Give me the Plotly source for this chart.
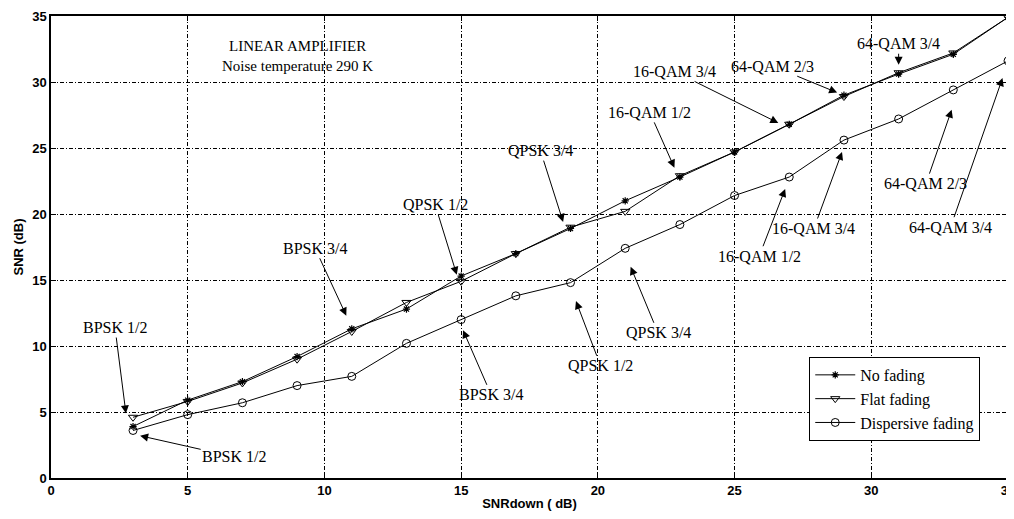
import plotly.graph_objects as go

snr_down = [3, 5, 7, 9, 11, 13, 15, 17, 19, 21, 23, 25, 27, 29, 31, 33, 35]
no_fading = [3.9, 5.9, 7.3, 9.2, 11.3, 12.8, 15.3, 17.0, 18.9, 21.0, 22.8, 24.7, 26.8, 29.0, 30.6, 32.1, 34.9]
flat_fading = [4.6, 5.8, 7.2, 9.0, 11.1, 13.3, 14.9, 17.0, 19.0, 20.2, 22.9, 24.7, 26.8, 28.9, 30.7, 32.2, 34.9]
dispersive_fading = [3.6, 4.8, 5.7, 7.0, 7.7, 10.2, 12.0, 13.8, 14.8, 17.4, 19.2, 21.4, 22.8, 25.6, 27.2, 29.4, 31.6]

# upper labels (no fading / flat fading): text, text position, arrow tip
upper_labels = ["BPSK 1/2", "BPSK 3/4", "QPSK 1/2", "QPSK 3/4", "16-QAM 1/2", "16-QAM 3/4", "64-QAM 2/3", "64-QAM 3/4"]
upper_text_x = [2.34, 9.66, 14.05, 17.9, 21.9, 22.8, 26.4, 31.0]
upper_text_y = [11.4, 17.4, 20.7, 24.8, 27.7, 30.8, 31.2, 32.9]
upper_tip_x = [2.74, 10.8, 14.84, 18.73, 22.8, 26.6, 28.75, 31.0]
upper_tip_y = [4.9, 12.3, 15.4, 19.4, 23.5, 26.9, 29.2, 31.3]

# lower labels (dispersive fading)
lower_labels = ["BPSK 1/2", "BPSK 3/4", "QPSK 1/2", "QPSK 3/4", "16-QAM 1/2", "16-QAM 3/4", "64-QAM 2/3", "64-QAM 3/4"]
lower_text_x = [6.7, 16.1, 20.1, 22.2, 25.9, 27.9, 32.0, 32.9]
lower_text_y = [1.6, 6.3, 8.5, 11.0, 16.8, 18.9, 22.3, 19.0]
lower_tip_x = [3.26, 15.07, 19.2, 21.2, 26.85, 28.93, 32.94, 34.8]
lower_tip_y = [3.2, 11.2, 13.4, 16.0, 21.9, 24.7, 27.9, 30.3]

serif = "Liberation Serif, Times New Roman, serif"
sans = "Liberation Sans, Arial, sans-serif"

fig = go.Figure()
fig.add_trace(go.Scatter(x=snr_down, y=no_fading, mode="lines+markers", name="No fading",
                         line=dict(color="black", width=1),
                         marker=dict(symbol="asterisk-open", size=6, color="black", line=dict(width=1.2, color="black"))))
fig.add_trace(go.Scatter(x=snr_down, y=flat_fading, mode="lines+markers", name="Flat fading",
                         line=dict(color="black", width=1),
                         marker=dict(symbol="triangle-down-open", size=8, color="black", line=dict(width=1, color="black"))))
fig.add_trace(go.Scatter(x=snr_down, y=dispersive_fading, mode="lines+markers", name="Dispersive fading",
                         line=dict(color="black", width=1),
                         marker=dict(symbol="circle-open", size=8, color="black", line=dict(width=1, color="black"))))

annotations = []
for labels, tx, ty, px, py in [(upper_labels, upper_text_x, upper_text_y, upper_tip_x, upper_tip_y),
                               (lower_labels, lower_text_x, lower_text_y, lower_tip_x, lower_tip_y)]:
    for lab, a, b, c, d in zip(labels, tx, ty, px, py):
        annotations.append(dict(x=c, y=d, ax=a, ay=b, xref="x", yref="y", axref="x", ayref="y",
                                text=lab, showarrow=True, arrowhead=2, arrowsize=1.6, arrowwidth=1,
                                arrowcolor="black", font=dict(family=serif, size=16, color="black")))

annotations.append(dict(x=9.0, y=32.0, xref="x", yref="y", showarrow=False,
                        text="LINEAR AMPLIFIER<br>Noise temperature 290 K",
                        font=dict(family=serif, size=15, color="black")))

fig.update_layout(
    width=1006, height=511,
    margin=dict(l=43, r=6, t=8, b=41),
    paper_bgcolor="white", plot_bgcolor="white",
    showlegend=True,
    legend=dict(x=0.971, y=0.262, xanchor="right", yanchor="top",
                bordercolor="black", borderwidth=1, bgcolor="white",
                font=dict(family=serif, size=16, color="black"),
                tracegroupgap=0, itemwidth=40),
    annotations=annotations,
)

axis_common = dict(showline=True, linecolor="black", linewidth=1.5, mirror="ticks",
                   ticks="inside", ticklen=5, tickcolor="black",
                   showgrid=True, gridcolor="black", gridwidth=1, griddash="4px,2px,1px,2px",
                   zeroline=False, dtick=5, automargin=False, ticklabeloverflow="allow",
                   tickfont=dict(family=sans, size=13, color="black", weight="bold"))

fig.update_xaxes(range=[0, 35], title=dict(text="SNRdown ( dB)", standoff=2,
                 font=dict(family=sans, size=13, color="black", weight="bold")), **axis_common)
fig.update_yaxes(range=[0, 35], title=dict(text="SNR (dB)", standoff=6,
                 font=dict(family=sans, size=13, color="black", weight="bold")), **axis_common)

fig.write_html("out.html")
